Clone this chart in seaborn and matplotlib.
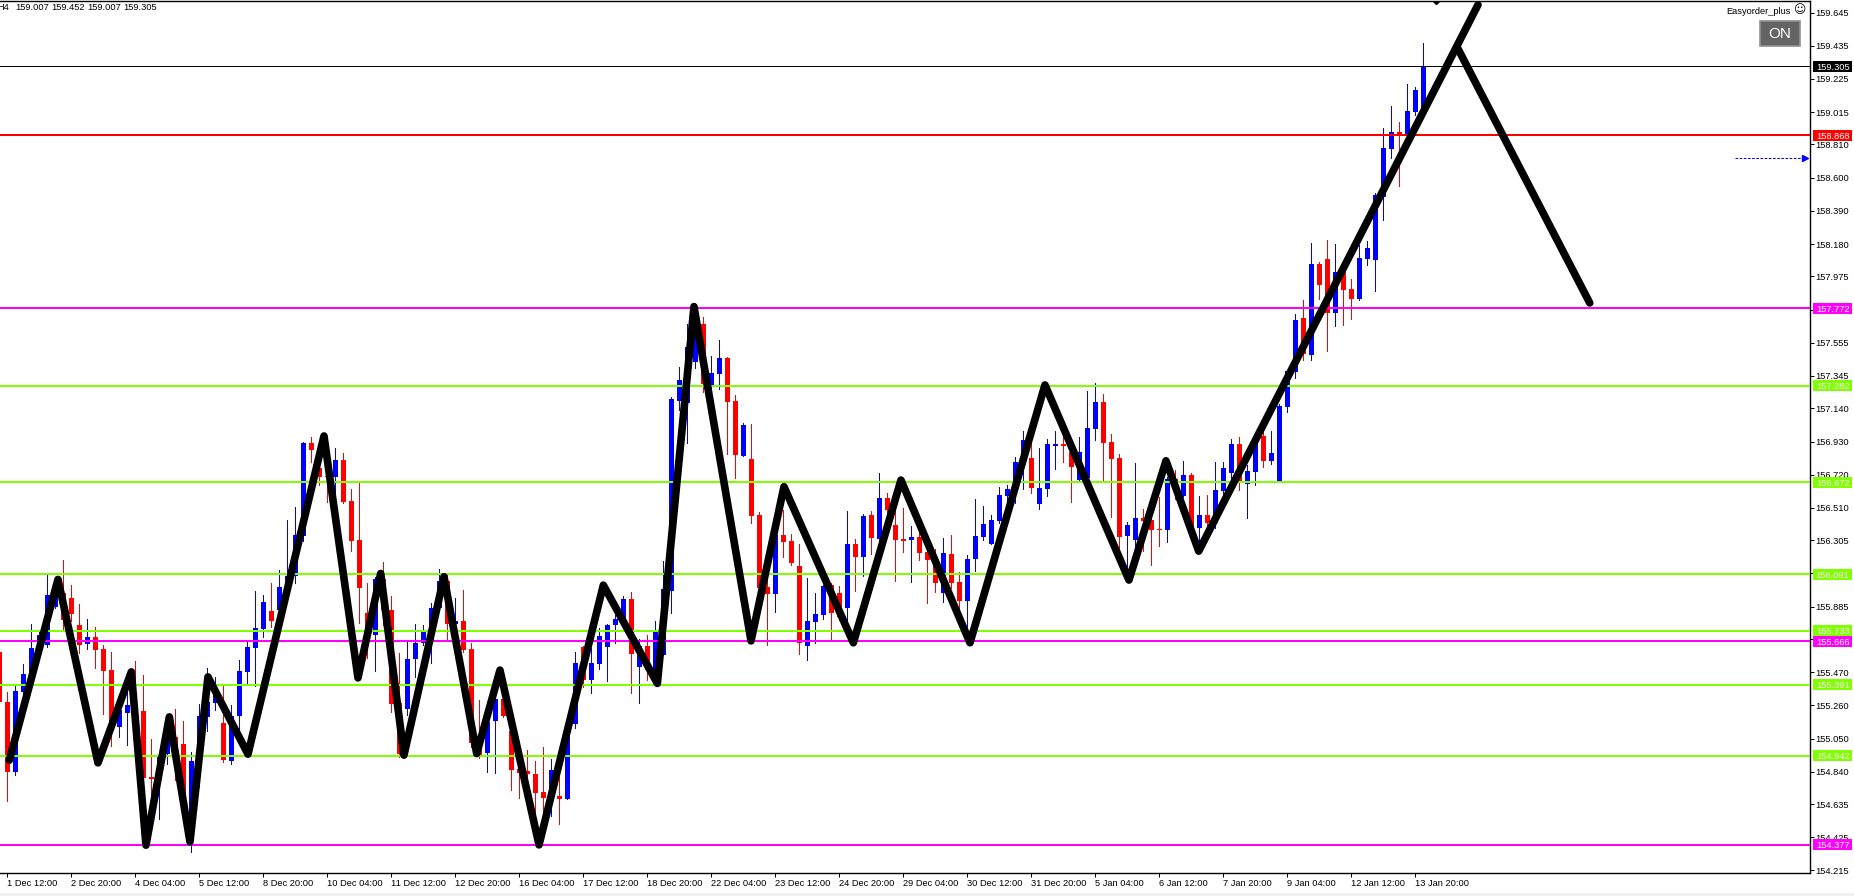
import numpy as np
import pandas as pd
import matplotlib.pyplot as plt
from matplotlib.patches import Rectangle
import seaborn as sns

# H4 candles (first one is cut by the left edge)
opens = [
    155.597, 155.280, 154.839, 155.344, 155.420, 155.599, 155.641, 155.880, 155.969, 155.939,
    155.768, 155.648, 155.692, 155.616, 155.483, 155.122, 155.211, 155.255, 155.223, 154.805,
    154.786, 154.951, 155.059, 155.014, 154.575, 154.955, 155.185, 155.274, 155.147, 154.907,
    155.192, 155.470, 155.622, 155.743, 155.857, 155.863, 156.042, 156.080, 156.333, 156.920,
    156.762, 156.711, 156.705, 156.813, 156.553, 156.306, 155.844, 155.704, 156.059, 155.863,
    155.274, 155.236, 155.553, 155.654, 155.673, 155.876, 156.047, 155.774, 155.793, 155.615,
    155.007, 154.957, 155.159, 155.299, 155.096, 154.855, 154.843, 154.824, 154.710, 154.701,
    154.686, 154.665, 155.140, 155.630, 155.419, 155.520, 155.628, 155.768, 155.768, 155.933,
    155.503, 155.634, 155.440, 155.578, 155.983, 157.187, 157.172, 157.434, 157.674, 157.288,
    157.358, 157.459, 157.187, 156.838, 156.819, 156.465, 156.009, 155.964, 156.338, 156.300,
    156.142, 155.635, 155.787, 155.831, 156.021, 155.971, 155.876, 156.281, 156.199, 156.465,
    156.313, 156.572, 156.401, 156.313, 156.306, 156.325, 156.230, 156.158, 155.970, 156.217,
    156.040, 155.919, 156.185, 156.325, 156.280, 156.426, 156.584, 156.622, 156.791, 156.825,
    156.534, 156.629, 156.901, 156.914, 156.865, 156.686, 156.698, 157.009, 157.180, 156.926,
    156.825, 156.331, 156.306, 156.443, 156.432, 156.375, 156.369, 156.692, 156.584, 156.717,
    156.382, 156.464, 156.413, 156.616, 156.730, 156.914, 156.660, 156.736, 156.964, 156.806,
    156.679, 157.148, 157.370, 157.712, 157.478, 158.054, 158.086, 157.744, 158.003, 157.896,
    157.832, 158.086, 158.079, 158.478, 158.782, 158.890, 158.871, 159.017, 159.007]
closes = [
    155.282, 154.839, 155.350, 155.458, 155.622, 155.705, 155.958, 156.011, 155.800, 155.838,
    155.641, 155.692, 155.610, 155.477, 155.135, 155.230, 155.261, 155.040, 154.799, 154.793,
    154.938, 155.082, 154.955, 154.596, 154.907, 155.192, 155.280, 155.335, 154.913, 155.192,
    155.477, 155.629, 155.749, 155.914, 155.793, 156.009, 156.078, 156.338, 156.920, 156.876,
    156.705, 156.703, 156.813, 156.547, 156.300, 156.004, 155.694, 156.059, 155.863, 155.268,
    154.955, 155.553, 155.654, 155.730, 155.876, 156.047, 155.774, 155.793, 155.610, 155.022,
    154.944, 155.155, 155.299, 155.191, 154.849, 154.830, 154.824, 154.703, 154.672, 154.849,
    154.665, 155.071, 155.527, 155.419, 155.527, 155.698, 155.767, 155.804, 155.933, 155.584,
    155.634, 155.482, 155.729, 155.996, 157.199, 157.320, 157.531, 157.615, 157.294, 157.364,
    157.459, 157.180, 156.845, 157.035, 156.458, 156.002, 155.964, 156.338, 156.294, 156.161,
    155.652, 155.793, 155.838, 156.015, 155.842, 155.821, 156.281, 156.199, 156.458, 156.319,
    156.572, 156.496, 156.306, 156.300, 156.325, 156.224, 156.179, 156.033, 156.223, 156.033,
    155.919, 156.185, 156.331, 156.407, 156.432, 156.591, 156.629, 156.800, 156.939, 156.635,
    156.635, 156.914, 156.914, 156.901, 156.768, 156.863, 157.015, 157.180, 156.920, 156.819,
    156.325, 156.401, 156.445, 156.426, 156.369, 156.369, 156.692, 156.673, 156.717, 156.390,
    156.464, 156.413, 156.622, 156.762, 156.914, 156.673, 156.743, 156.939, 156.806, 156.857,
    157.154, 157.376, 157.699, 157.484, 158.054, 157.921, 157.744, 158.003, 157.889, 157.832,
    158.092, 158.155, 158.491, 158.789, 158.890, 158.871, 159.023, 159.156, 159.305]
highs = [
    155.610, 155.342, 155.382, 155.521, 155.774, 155.730, 156.085, 156.032, 156.180, 156.021,
    155.901, 155.806, 155.755, 155.641, 155.597, 155.293, 155.420, 155.540, 155.451, 155.046,
    154.945, 155.198, 155.236, 155.160, 154.964, 155.268, 155.496, 155.441, 155.382, 155.261,
    155.546, 155.660, 155.983, 155.958, 156.034, 156.116, 156.433, 156.515, 156.927, 156.958,
    156.939, 156.939, 156.889, 156.857, 156.629, 156.667, 156.034, 156.074, 156.167, 155.952,
    155.589, 155.660, 155.774, 155.768, 155.907, 156.123, 156.085, 155.939, 155.990, 155.653,
    155.292, 155.190, 155.299, 155.299, 155.096, 154.912, 154.976, 154.906, 154.995, 154.919,
    154.807, 155.081, 155.596, 155.634, 155.620, 155.748, 155.774, 155.831, 155.952, 155.977,
    155.683, 155.704, 155.793, 156.173, 157.210, 157.400, 157.674, 157.742, 157.719, 157.472,
    157.573, 157.465, 157.225, 157.045, 157.041, 156.484, 156.095, 156.349, 156.496, 156.344,
    156.281, 156.066, 155.971, 156.021, 156.032, 156.015, 156.490, 156.313, 156.471, 156.490,
    156.731, 156.604, 156.581, 156.509, 156.395, 156.400, 156.300, 156.249, 156.318, 156.337,
    156.103, 156.211, 156.565, 156.521, 156.464, 156.641, 156.654, 156.831, 156.996, 156.939,
    156.888, 156.945, 156.996, 156.971, 156.876, 156.958, 157.249, 157.300, 157.230, 156.977,
    156.850, 156.420, 156.793, 156.502, 156.454, 156.578, 156.707, 156.749, 156.806, 156.730,
    156.584, 156.591, 156.800, 156.800, 156.945, 156.958, 156.781, 156.960, 157.002, 156.996,
    157.167, 157.382, 157.737, 157.826, 158.187, 158.067, 158.206, 158.181, 158.016, 157.959,
    158.174, 158.200, 158.502, 158.915, 159.055, 158.953, 159.194, 159.175, 159.452]
lows = [
    155.251, 154.653, 154.818, 155.331, 155.377, 155.546, 155.629, 155.874, 155.743, 155.793,
    155.591, 155.616, 155.496, 155.204, 155.002, 155.059, 155.008, 154.955, 154.744, 154.639,
    154.539, 154.888, 154.786, 154.575, 154.330, 154.744, 155.097, 155.230, 154.900, 154.888,
    155.103, 155.401, 155.382, 155.692, 155.755, 155.736, 156.032, 156.032, 156.302, 156.800,
    156.654, 156.547, 156.559, 156.540, 156.236, 155.781, 155.559, 155.477, 155.768, 155.217,
    154.932, 155.198, 155.439, 155.641, 155.527, 155.863, 155.673, 155.715, 155.599, 154.997,
    154.927, 154.836, 154.830, 155.185, 154.722, 154.672, 154.743, 154.532, 154.490, 154.558,
    154.507, 154.665, 155.115, 155.377, 155.337, 155.489, 155.413, 155.654, 155.758, 155.337,
    155.273, 155.419, 155.387, 155.577, 155.842, 157.130, 156.921, 157.396, 157.244, 157.256,
    157.263, 156.851, 156.699, 156.838, 156.414, 155.990, 155.641, 155.850, 156.199, 156.148,
    155.585, 155.546, 155.654, 155.806, 155.673, 155.800, 155.758, 155.983, 156.078, 156.218,
    156.306, 156.433, 156.047, 156.230, 156.041, 156.180, 155.907, 155.976, 155.913, 156.000,
    155.862, 155.694, 156.109, 156.306, 156.280, 156.413, 156.517, 156.540, 156.629, 156.603,
    156.502, 156.584, 156.755, 156.800, 156.546, 156.675, 156.696, 156.939, 156.679, 156.451,
    156.259, 156.073, 156.242, 156.236, 156.147, 156.268, 156.293, 156.565, 156.580, 156.369,
    156.263, 156.390, 156.382, 156.591, 156.686, 156.622, 156.445, 156.654, 156.768, 156.787,
    156.679, 157.116, 157.332, 157.446, 157.446, 157.832, 157.503, 157.661, 157.668, 157.706,
    157.826, 158.048, 157.883, 158.333, 158.725, 158.548, 158.860, 158.998, 159.007]

# zigzag drawn over the candles, x in bar numbers
zigzag_x = [0.25, 6.33, 11.33, 15.5, 17.33, 20.25, 22.83, 25.08, 30.08, 39.58, 43.83, 46.67, 49.58,
            54.58, 58.67, 61.58, 66.46, 74.5, 81.25, 85.83, 92.96, 97.08, 105.75, 111.7, 120.33,
            129.7, 140.2, 144.83, 148.92, 183.83]
zigzag_y = [154.913, 156.057, 154.896, 155.472, 154.375, 155.187, 154.396, 155.440, 154.951, 156.965,
            155.434, 156.095, 154.945, 156.074, 154.955, 155.483, 154.377, 156.021, 155.399, 157.784,
            155.668, 156.644, 155.656, 156.686, 155.656, 157.288, 156.053, 156.808, 156.236, 159.694]
drop_x = [181.2, 197.8]
drop_y = [159.428, 157.807]
top_mark_x = [178.55]
top_mark_y = [159.722]

# horizontal levels and their colours
level_prices = [158.868, 157.772, 157.282, 156.672, 156.091, 155.733, 155.666, 155.391, 154.942, 154.377]
level_colors = ['#ff0000', '#ff00ff', '#7fff00', '#7fff00', '#7fff00', '#7fff00', '#ff00ff', '#7fff00', '#7fff00', '#ff00ff']
last_price = 159.305

arrow_x = [215.96, 224.7]
arrow_price = 158.723

y_ticks = [159.645, 159.435, 159.225, 159.015, 158.810, 158.600, 158.390, 158.180, 157.975, 157.765,
           157.555, 157.345, 157.140, 156.930, 156.720, 156.510, 156.305, 156.095, 155.885, 155.680,
           155.470, 155.260, 155.050, 154.840, 154.635, 154.425, 154.215]
x_labels = ['1 Dec 12:00', '2 Dec 20:00', '4 Dec 04:00', '5 Dec 12:00', '8 Dec 20:00', '10 Dec 04:00',
            '11 Dec 12:00', '12 Dec 20:00', '16 Dec 04:00', '17 Dec 12:00', '18 Dec 20:00', '22 Dec 04:00',
            '23 Dec 12:00', '24 Dec 20:00', '29 Dec 04:00', '30 Dec 12:00', '31 Dec 20:00', '5 Jan 04:00',
            '6 Jan 12:00', '7 Jan 20:00', '9 Jan 04:00', '12 Jan 12:00', '13 Jan 20:00']
header_values = ['159.007', '159.452', '159.007', '159.305']

df = pd.DataFrame({'bar': np.arange(-1, 178), 'open': opens, 'high': highs, 'low': lows, 'close': closes})
df['color'] = np.where(df['close'] >= df['open'], '#0000ff', '#ff0000')
df['top'] = df[['open', 'close']].max(axis=1)
df['bottom'] = df[['open', 'close']].min(axis=1)

sns.set_theme(style='white')
plt.rcParams['font.family'] = ['Liberation Sans', 'DejaVu Sans']

W, H = 1854, 896
fig = plt.figure(figsize=(W / 100, H / 100), dpi=100, facecolor='white')
ax = fig.add_axes([0, 23 / H, 1810 / W, 872 / H])
ax.set_xlim(-0.917, 225.33)
ax.set_ylim(154.199, 159.718)

# candles
ax.vlines(df['bar'], df['low'], df['high'], colors=df['color'], linewidth=0.72, antialiased=False, zorder=2)
ax.bar(df['bar'], df['top'] - df['bottom'], bottom=df['bottom'], width=0.625, color=df['color'],
       linewidth=0, antialiased=False, zorder=3)

# levels
for price, color in zip(level_prices, level_colors):
    ax.axhline(price, color=color, linewidth=1.44, antialiased=False, zorder=4)
ax.axhline(last_price, color='black', linewidth=0.6, antialiased=False, zorder=4)

# zigzag
line_kw = dict(color='black', linewidth=5.5, estimator=None, sort=False, legend=False, ax=ax, zorder=6,
               solid_capstyle='round', solid_joinstyle='round')
sns.lineplot(x=zigzag_x, y=zigzag_y, **line_kw)
sns.lineplot(x=drop_x, y=drop_y, **line_kw)
ax.plot(top_mark_x, top_mark_y, marker='D', markersize=4.5, color='black', linestyle='none', zorder=6)

# small blue arrow on the right
ax.plot(arrow_x, [arrow_price, arrow_price], color='#0000ff', linewidth=0.75, dashes=(2.5, 1.5), zorder=5)
ax.plot(arrow_x[1:], [arrow_price], marker='>', markersize=4.2, color='#0000ff', linestyle='none', zorder=5)

# axes
for side in ['left']:
    ax.spines[side].set_visible(False)
for side in ['top', 'right', 'bottom']:
    ax.spines[side].set_visible(True)
    ax.spines[side].set_color('black')
    ax.spines[side].set_linewidth(1.0)
ax.yaxis.tick_right()
ax.set_yticks(y_ticks)
ax.set_yticklabels(['%.3f' % t for t in y_ticks], fontsize=6.7, color='black')
ax.tick_params(axis='y', right=True, length=2.6, width=0.72, pad=1.2, color='black')
ax.set_xticks(np.arange(len(x_labels)) * 8)
ax.set_xticklabels(x_labels, fontsize=6.7, color='black', ha='left')
ax.tick_params(axis='x', bottom=True, length=2.6, width=0.72, pad=1.6, color='black')

# price tags on the axis
tag_h = 11 / 158.0
tag_prices = [last_price] + level_prices
tag_colors = ['black'] + level_colors
for price, color in zip(tag_prices, tag_colors):
    ax.add_patch(Rectangle((1.0017, price - tag_h / 2), 0.0215, tag_h, transform=ax.get_yaxis_transform(),
                           facecolor=color, edgecolor='none', clip_on=False, zorder=10))
    ax.text(1.0125, price, '%.3f' % price, transform=ax.get_yaxis_transform(), ha='center', va='center_baseline',
            fontsize=6.7, color='white', zorder=11, clip_on=False)

# header and expert label
fig.text(-3 / W, 1 - 8 / H, 'H4', fontsize=6.7, color='black', va='center')
for i, value in enumerate(header_values):
    fig.text((15.7 + 36 * i) / W, 1 - 8 / H, value, fontsize=6.7, color='black', va='center')
fig.text(1791 / W, 1 - 11 / H, 'Easyorder_plus', fontsize=6.7, color='black', ha='right', va='center')
fig.text(1799 / W, 1 - 10 / H, '\u263a', fontsize=8.5, color='black', ha='center', va='center',
         family=['DejaVu Sans'])

# ON button
fig.add_artist(Rectangle((1760 / W, 1 - 46 / H), 40 / W, 25 / H, transform=fig.transFigure,
                         facecolor='#646464', edgecolor='#909090', linewidth=1.2))
fig.text(1780 / W, 1 - 34 / H, 'ON', fontsize=11, color='white', ha='center', va='center')

# grey strip at the very bottom
fig.add_artist(Rectangle((0, 0), 1, 3 / H, transform=fig.transFigure, facecolor='#f0f0f0', edgecolor='none'))

fig.savefig('out.png', dpi=100, facecolor='white')
